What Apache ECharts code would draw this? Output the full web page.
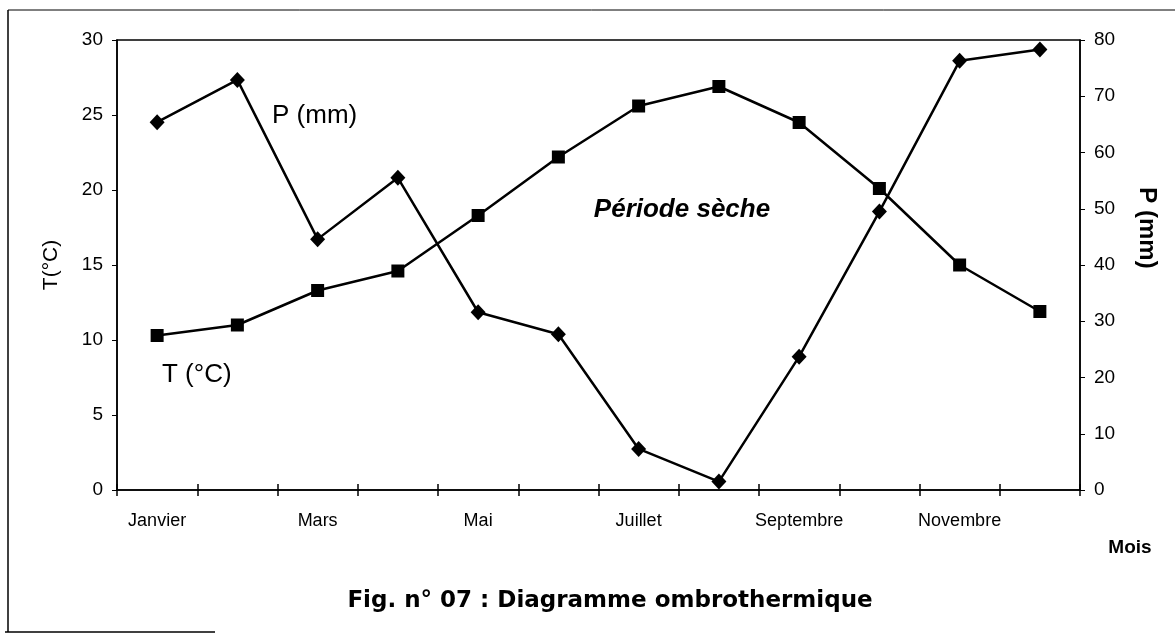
<!DOCTYPE html>
<html>
<head>
<meta charset="utf-8">
<script src="https://cdn.jsdelivr.net/npm/echarts@6/dist/echarts.min.js"></script>
<style>
html,body{margin:0;padding:0;background:#fff;}
#chart{width:1175px;height:639px;}
</style>
</head>
<body>
<div id="chart"></div>
<script>
const months = ['Janvier','Février','Mars','Avril','Mai','Juin','Juillet','Août','Septembre','Octobre','Novembre','Décembre'];
const temperature = [10.3, 11.0, 13.3, 14.6, 18.3, 22.2, 25.6, 26.9, 24.5, 20.1, 15.0, 11.9];
const precipitation = [65.4, 72.9, 44.6, 55.5, 31.6, 27.7, 7.3, 1.5, 23.7, 49.5, 76.3, 78.3];
const tempTicks = {min: 0, max: 30, interval: 5};
const precTicks = {min: 0, max: 80, interval: 10};

const FONT = '"Liberation Sans", Arial, sans-serif';
const WIDE = '"DejaVu Sans", sans-serif';
const chart = echarts.init(document.getElementById('chart'), null, {renderer: 'canvas'});

chart.setOption({
  backgroundColor: '#fff',
  animation: false,
  grid: {left: 117, right: 95, top: 40, bottom: 149, show: true, borderColor: '#000', borderWidth: 1.5},
  xAxis: [
    {
      type: 'category', data: months, boundaryGap: true,
      axisLine: {lineStyle: {color: '#000', width: 1.5}},
      axisTick: {show: true, interval: 0, length: 6, lineStyle: {color: '#000', width: 1.5}},
      axisLabel: {interval: 1, margin: 22, color: '#000', fontSize: 18, fontFamily: FONT}
    },
    {
      type: 'category', data: months, boundaryGap: true, position: 'bottom',
      axisLine: {show: false},
      axisTick: {show: true, inside: true, interval: 0, length: 6, lineStyle: {color: '#000', width: 1.5}},
      axisLabel: {show: false}
    }
  ],
  yAxis: [
    {
      type: 'value', min: tempTicks.min, max: tempTicks.max, interval: tempTicks.interval,
      axisLine: {show: true, lineStyle: {color: '#000', width: 1.5}},
      axisTick: {show: true, length: 5, lineStyle: {color: '#000'}},
      splitLine: {show: false},
      axisLabel: {margin: 14, color: '#000', fontSize: 19, fontFamily: FONT}
    },
    {
      type: 'value', min: precTicks.min, max: precTicks.max, interval: precTicks.interval, position: 'right',
      axisLine: {show: true, lineStyle: {color: '#000', width: 1.5}},
      axisTick: {show: true, length: 5, lineStyle: {color: '#000'}},
      splitLine: {show: false},
      axisLabel: {margin: 14, color: '#000', fontSize: 19, fontFamily: FONT}
    }
  ],
  series: [
    {
      name: 'T (°C)', type: 'line', data: temperature, yAxisIndex: 0,
      symbol: 'rect', symbolSize: 13,
      lineStyle: {color: '#000', width: 2.5},
      itemStyle: {color: '#000'}
    },
    {
      name: 'P (mm)', type: 'line', data: precipitation, yAxisIndex: 1,
      symbol: 'diamond', symbolSize: [15, 16],
      lineStyle: {color: '#000', width: 2.5},
      itemStyle: {color: '#000'}
    }
  ],
  graphic: [
    {type: 'line', shape: {x1: 8, y1: 10, x2: 8, y2: 632}, style: {stroke: '#000', lineWidth: 1.5}},
    {type: 'line', shape: {x1: 8, y1: 10, x2: 1175, y2: 10}, style: {stroke: '#000', lineWidth: 1}},
    {type: 'line', shape: {x1: 5, y1: 632, x2: 215, y2: 632}, style: {stroke: '#000', lineWidth: 1.5}},
    {type: 'text', x: 272, y: 116, style: {text: 'P (mm)', fill: '#000', font: '26px ' + FONT, textVerticalAlign: 'middle'}},
    {type: 'text', x: 162, y: 375, style: {text: 'T (°C)', fill: '#000', font: '26px ' + FONT, textVerticalAlign: 'middle'}},
    {type: 'text', x: 682, y: 210, style: {text: 'Période sèche', fill: '#000', font: 'italic bold 26px ' + FONT, textAlign: 'center', textVerticalAlign: 'middle'}},
    {type: 'text', x: 51, y: 265, rotation: Math.PI / 2, style: {text: 'T(°C)', fill: '#000', font: '21px ' + FONT, textAlign: 'center', textVerticalAlign: 'middle'}},
    {type: 'text', x: 1147, y: 228, rotation: -Math.PI / 2, style: {text: 'P (mm)', fill: '#000', font: 'bold 24px ' + FONT, textAlign: 'center', textVerticalAlign: 'middle'}},
    {type: 'text', x: 1130, y: 548, style: {text: 'Mois', fill: '#000', font: 'bold 19px ' + FONT, textAlign: 'center', textVerticalAlign: 'middle'}},
    {type: 'text', x: 610, y: 601, style: {text: 'Fig. n° 07 : Diagramme ombrothermique', fill: '#000', font: 'bold 23px ' + WIDE, textAlign: 'center', textVerticalAlign: 'middle'}}
  ]
});
</script>
</body>
</html>
